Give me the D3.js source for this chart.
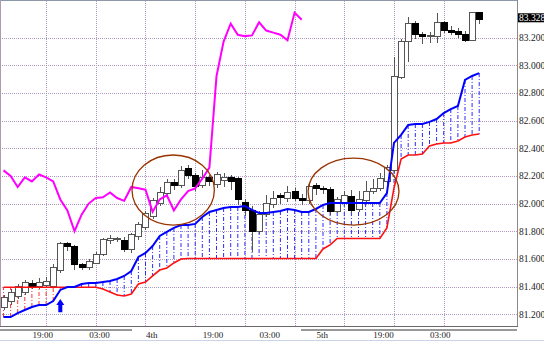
<!DOCTYPE html>
<html>
<head>
<meta charset="utf-8">
<script src="https://cdn.jsdelivr.net/npm/d3@7"></script>
<style>
body { margin: 0; background: #fff; }
svg { display: block; }
</style>
</head>
<body>
<div id="container"></div>
<script>
const width = 544, height = 342;
const plot = {left: 0, right: 517, top: 1, bottom: 326};

// candles, one per bar
const open  = [81.25,81.29,81.33,81.36,81.42,81.40,81.41,81.40,81.52,81.71,
               81.69,81.56,81.54,81.57,81.63,81.73,81.74,81.73,81.665,81.76,
               81.83,81.91,82.00,82.07,82.15,82.13,82.25,82.20,82.13,82.19,
               82.14,82.17,82.19,82.18,82.01,81.95,81.80,81.92,81.99,82.055,
               82.04,82.09,82.04,82.02,82.13,82.11,82.10,81.94,82.01,82.05,
               81.96,82.02,82.09,82.11,82.16,82.24,82.91,83.17,83.30,83.225,
               83.205,83.21,83.31,83.25,83.24,83.22,83.18,83.38];
const high  = [81.34,81.38,81.42,81.45,81.45,81.46,81.47,81.56,81.72,81.72,
               81.70,81.57,81.60,81.65,81.75,81.77,81.76,81.76,81.79,81.87,
               81.95,82.04,82.12,82.18,82.18,82.27,82.28,82.22,82.24,82.21,
               82.23,82.22,82.21,82.19,82.03,81.98,81.95,82.06,82.09,82.08,
               82.13,82.11,82.07,82.14,82.15,82.13,82.12,82.05,82.09,82.10,
               82.09,82.16,82.18,82.22,82.28,83.06,83.19,83.35,83.32,83.24,
               83.24,83.38,83.32,83.28,83.27,83.25,83.385,83.385];
const low   = [81.23,81.27,81.31,81.34,81.38,81.38,81.39,81.39,81.50,81.66,
               81.52,81.52,81.52,81.56,81.62,81.71,81.72,81.65,81.64,81.74,
               81.81,81.89,81.98,82.05,82.10,82.11,82.18,82.09,82.11,82.13,
               82.11,82.12,82.10,81.99,81.91,81.65,81.78,81.90,81.97,82.00,
               82.01,82.02,81.99,82.00,82.06,82.07,81.92,81.93,81.99,81.93,
               81.94,82.00,82.07,82.09,82.14,82.22,82.90,83.02,83.19,83.15,
               83.16,83.16,83.23,83.22,83.20,83.17,83.175,83.30];
const close = [81.32,81.36,81.40,81.43,81.40,81.43,81.44,81.54,81.71,81.69,
               81.56,81.54,81.58,81.63,81.74,81.75,81.745,81.665,81.78,81.85,
               81.93,82.02,82.08,82.15,82.13,82.24,82.20,82.12,82.19,82.16,
               82.21,82.19,82.16,82.03,81.95,81.80,81.92,82.00,82.04,82.045,
               82.08,82.04,82.02,82.12,82.11,82.10,81.94,82.03,82.06,81.95,
               82.03,82.09,82.11,82.18,82.26,82.92,83.17,83.30,83.22,83.21,
               83.215,83.31,83.25,83.235,83.22,83.18,83.38,83.328];

// cloud spans (blue / red)
const spanA = [81.180,81.180,81.209,81.231,81.253,81.267,81.267,81.296,81.376,81.397,
               81.397,81.419,81.426,81.426,81.433,81.441,81.455,81.477,81.513,81.614,
               81.643,81.693,81.766,81.795,81.824,81.845,81.845,81.853,81.903,81.939,
               81.954,81.968,81.975,81.975,81.983,81.954,81.932,81.932,81.939,81.946,
               81.961,81.954,81.939,81.939,81.961,81.990,82.004,82.004,82.004,82.004,
               82.004,82.004,82.004,82.004,82.076,82.438,82.496,82.568,82.575,82.575,
               82.590,82.611,82.654,82.683,82.705,82.893,82.922,82.943];
const spanB = [81.395,81.395,81.395,81.395,81.395,81.395,81.395,81.395,81.395,81.395,
               81.395,81.395,81.395,81.395,81.383,81.361,81.340,81.332,81.347,81.419,
               81.433,81.477,81.520,81.535,81.571,81.600,81.603,81.603,81.603,81.603,
               81.603,81.603,81.603,81.603,81.603,81.603,81.603,81.603,81.603,81.603,
               81.603,81.603,81.603,81.603,81.603,81.672,81.701,81.748,81.748,81.748,
               81.748,81.748,81.748,81.748,81.824,82.113,82.322,82.351,82.351,82.358,
               82.416,82.430,82.438,82.438,82.452,82.481,82.496,82.503];
const lagBars = 25;

const priceTicks = [81.2, 81.4, 81.6, 81.8, 82.0, 82.2, 82.4, 82.6, 82.8, 83.0, 83.2];
const gridBars = [6, 13, 20, 27, 34, 41, 48, 55, 62];
const labelBars = [4, 12, 20, 28, 36, 44, 52, 60];
const labelText = ["19:00", "03:00", "4th", "19:00", "03:00", "5th", "19:00", "03:00"];
const sessionBars = [[-0.5, 18.1], [41.9, 72.4]];

// notes drawn on the chart
const rings = [{bar: 23.9, price: 82.098, rBars: 5.8, rPrice: 0.253},
               {bar: 49.3, price: 82.087, rBars: 6.4, rPrice: 0.242}];
const arrow = {bar: 8, tip: 81.31, base: 81.215};

const x = d3.scaleLinear().domain([0, 67]).range([3.5, 479.2]);
const y = d3.scaleLinear().domain([81.2, 83.2]).range([314.3, 37.5]);

const svg = d3.select('#container')
    .append('svg')
    .attr('width', width)
    .attr('height', height)
    .style('font-family', '"Liberation Serif", "DejaVu Serif", serif');

// grid
const grid = svg.append('g').attr('shape-rendering', 'crispEdges');
[['#e08ce0', 0], ['#80a8a8', 2]].forEach(([col, off]) => {
    grid.selectAll(null)
        .data(priceTicks)
        .enter()
        .append('line')
        .attr('x1', plot.left).attr('x2', plot.right)
        .attr('y1', d => Math.round(y(d)) + 0.5).attr('y2', d => Math.round(y(d)) + 0.5)
        .attr('stroke', col)
        .attr('stroke-dasharray', '1,3')
        .attr('stroke-dashoffset', off);
    grid.selectAll(null)
        .data(gridBars)
        .enter()
        .append('line')
        .attr('x1', d => Math.round(x(d)) + 0.5).attr('x2', d => Math.round(x(d)) + 0.5)
        .attr('y1', plot.top).attr('y2', plot.bottom)
        .attr('stroke', col)
        .attr('stroke-dasharray', '1,3')
        .attr('stroke-dashoffset', off);
});

// cloud hatching
const bars = d3.range(close.length);
svg.append('g')
    .selectAll('line')
    .data(bars)
    .enter()
    .append('line')
    .attr('x1', i => x(i)).attr('x2', i => x(i))
    .attr('y1', i => y(spanA[i])).attr('y2', i => y(spanB[i]))
    .attr('stroke', i => spanA[i] >= spanB[i] ? '#2a2aff' : '#ff3030')
    .attr('stroke-width', 1)
    .attr('stroke-dasharray', '4,2,1,2');

// candles
const candle = svg.append('g')
    .attr('shape-rendering', 'crispEdges')
    .selectAll('g')
    .data(bars)
    .enter()
    .append('g');

candle.append('line')
    .attr('x1', i => Math.round(x(i)) + 0.5).attr('x2', i => Math.round(x(i)) + 0.5)
    .attr('y1', i => y(high[i])).attr('y2', i => y(low[i]))
    .attr('stroke', '#555');

candle.append('rect')
    .attr('x', i => Math.round(x(i)) - 2.5)
    .attr('width', 6)
    .attr('y', i => y(Math.max(open[i], close[i])))
    .attr('height', i => Math.max(1, Math.abs(y(open[i]) - y(close[i]))))
    .attr('fill', i => close[i] >= open[i] ? '#fff' : '#000')
    .attr('stroke', i => close[i] >= open[i] ? '#555' : '#000');

// span lines
svg.append('path')
    .datum(bars)
    .attr('fill', 'none')
    .attr('stroke', '#ff1010')
    .attr('stroke-width', 1.6)
    .attr('d', d3.line().x(i => x(i)).y(i => y(spanB[i])));

svg.append('path')
    .datum(bars)
    .attr('fill', 'none')
    .attr('stroke', '#0000ff')
    .attr('stroke-width', 2)
    .attr('d', d3.line().x(i => x(i)).y(i => y(spanA[i])));

// lagging line: close shifted back
const lagIdx = d3.range(close.length - lagBars);
svg.append('path')
    .datum(lagIdx)
    .attr('fill', 'none')
    .attr('stroke', '#ff00ff')
    .attr('stroke-width', 2)
    .attr('d', d3.line().x(j => x(j)).y(j => y(close[j + lagBars])));

// ellipses
svg.append('g')
    .selectAll('ellipse')
    .data(rings)
    .enter()
    .append('ellipse')
    .attr('cx', d => x(d.bar))
    .attr('cy', d => y(d.price))
    .attr('rx', d => x(d.bar + d.rBars) - x(d.bar))
    .attr('ry', d => y(d.price - d.rPrice) - y(d.price))
    .attr('fill', 'none')
    .attr('stroke', '#993300')
    .attr('stroke-width', 1.3);

// blue arrow
const ax = x(arrow.bar), at = y(arrow.tip), ab = y(arrow.base);
svg.append('path')
    .attr('d', `M${ax},${at} L${ax + 4},${at + 6} L${ax + 2},${at + 6} L${ax + 2},${ab} L${ax - 2},${ab} L${ax - 2},${at + 6} L${ax - 4},${at + 6} Z`)
    .attr('fill', '#0000ff');

// frame
const frame = svg.append('g').attr('shape-rendering', 'crispEdges');
frame.append('line').attr('x1', 0).attr('x2', plot.right).attr('y1', 0.5).attr('y2', 0.5).attr('stroke', '#8a98a8');
frame.append('line').attr('x1', 0.5).attr('x2', 0.5).attr('y1', 0).attr('y2', plot.bottom).attr('stroke', '#b09ab0');
frame.append('line').attr('x1', plot.right + 0.5).attr('x2', plot.right + 0.5).attr('y1', 0).attr('y2', plot.bottom).attr('stroke', '#8a8a8a');
frame.append('line').attr('x1', 0).attr('x2', plot.right + 1).attr('y1', plot.bottom + 0.5).attr('y2', plot.bottom + 0.5).attr('stroke', '#6a6a6a');
frame.selectAll('.session')
    .data(sessionBars)
    .enter()
    .append('line')
    .attr('class', 'session')
    .attr('x1', d => Math.max(0, x(d[0]))).attr('x2', d => Math.min(plot.right, x(d[1])))
    .attr('y1', plot.bottom + 3.5).attr('y2', plot.bottom + 3.5)
    .attr('stroke', '#999')
    .attr('stroke-width', 2);
frame.append('line').attr('x1', 0).attr('x2', width).attr('y1', 340.5).attr('y2', 340.5).attr('stroke', '#c8d4e8');

// price axis
svg.append('g')
    .selectAll('text')
    .data(priceTicks)
    .enter()
    .append('text')
    .attr('x', plot.right + 2)
    .attr('y', d => y(d))
    .attr('dy', '0.35em')
    .attr('font-size', '9.5px')
    .attr('fill', '#222')
    .text(d => d.toFixed(3));

// last price box
const last = close[close.length - 1];
svg.append('rect')
    .attr('x', plot.right + 1)
    .attr('y', y(last) - 6.5)
    .attr('width', width - plot.right - 1)
    .attr('height', 9)
    .attr('fill', '#000');
svg.append('text')
    .attr('x', plot.right + 2)
    .attr('y', y(last) - 2)
    .attr('dy', '0.35em')
    .attr('font-size', '9.5px')
    .attr('fill', '#fff')
    .text(last.toFixed(3));

// time axis
svg.append('g')
    .selectAll('text')
    .data(labelBars)
    .enter()
    .append('text')
    .attr('x', d => x(d) + 0.5)
    .attr('y', 335)
    .attr('dy', '0.35em')
    .attr('font-size', '9px')
    .attr('fill', '#222')
    .text((d, k) => labelText[k]);
</script>
</body>
</html>
